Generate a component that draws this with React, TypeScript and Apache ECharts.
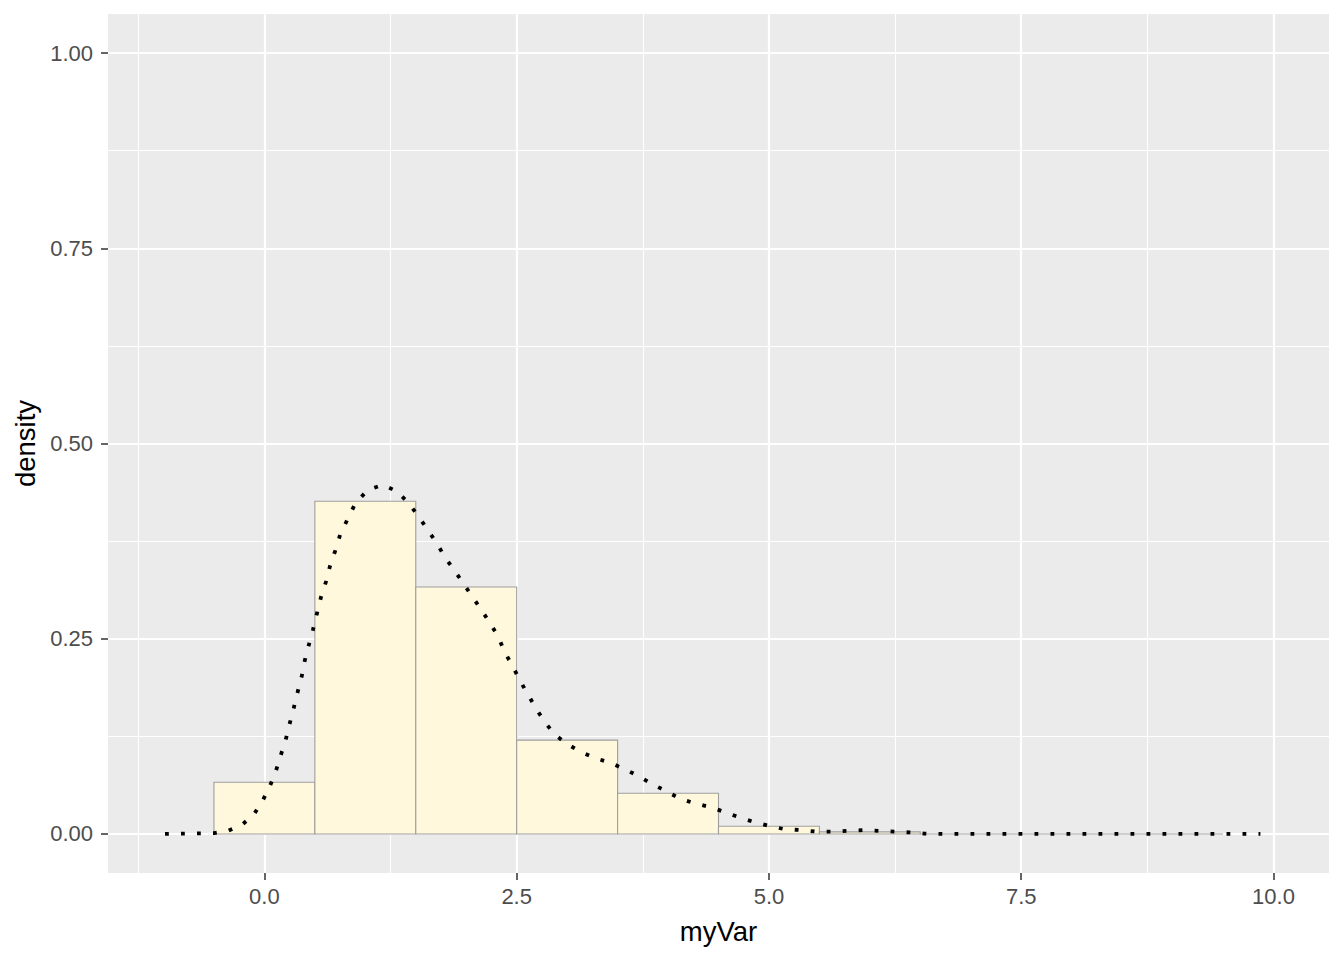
import React, { useEffect, useRef } from "react";
import * as echarts from "echarts";

// Histogram bins (binwidth 1) and their densities
const binStart = [-0.5, 0.5, 1.5, 2.5, 3.5, 4.5, 5.5, 6.5, 7.5, 8.5];
const binEnd = [0.5, 1.5, 2.5, 3.5, 4.5, 5.5, 6.5, 7.5, 8.5, 9.5];
const binDensity = [0.0663, 0.426, 0.3163, 0.1201, 0.0521, 0.0098, 0.0026, 0, 0, 0];

// Kernel density estimate (dotted curve)
const densityX = [
  -0.985, -0.5, -0.36, -0.22, -0.11, -0.02, 0.05, 0.11, 0.16, 0.21, 0.25, 0.29, 0.33,
  0.37, 0.4, 0.44, 0.48, 0.52, 0.56, 0.61, 0.65, 0.7, 0.75, 0.82, 0.9, 1.02, 1.17,
  1.31, 1.42, 1.52, 1.62, 1.71, 1.79, 1.88, 1.97, 2.06, 2.15, 2.24, 2.32, 2.38, 2.46,
  2.53, 2.61, 2.7, 2.78, 2.88, 3.0, 3.14, 3.28, 3.43, 3.57, 3.71, 3.84, 3.98, 4.12,
  4.27, 4.43, 4.56, 4.71, 4.86, 5.01, 5.16, 5.32, 5.47, 5.63, 5.78, 5.94, 6.09, 6.24,
  6.39, 6.54, 6.7, 7.5, 8.5, 9.87,
];
const densityY = [
  0, 0.001, 0.004, 0.012, 0.024, 0.042, 0.06, 0.079, 0.1, 0.12, 0.141, 0.161, 0.182,
  0.202, 0.222, 0.242, 0.261, 0.282, 0.303, 0.323, 0.343, 0.362, 0.383, 0.402, 0.423,
  0.44, 0.447, 0.439, 0.425, 0.408, 0.389, 0.372, 0.354, 0.338, 0.321, 0.304, 0.287,
  0.269, 0.252, 0.233, 0.215, 0.197, 0.179, 0.159, 0.143, 0.127, 0.115, 0.105, 0.097,
  0.091, 0.083, 0.074, 0.064, 0.055, 0.045, 0.039, 0.034, 0.028, 0.021, 0.015, 0.01,
  0.006, 0.005, 0.003, 0.003, 0.004, 0.005, 0.004, 0.003, 0.002, 0.0005, 0, 0, 0, 0,
];

const xTicks = [0, 2.5, 5, 7.5, 10];
const xMinor = [-1.25, 1.25, 3.75, 6.25, 8.75];
const yTicks = [0, 0.25, 0.5, 0.75, 1];
const yMinor = [0.125, 0.375, 0.625, 0.875];

const X_MIN = -1.55;
const X_MAX = 10.55;
const Y_MIN = -0.05;
const Y_MAX = 1.05;

const FONT = "'Liberation Sans', Arial, sans-serif";

export default function App() {
  const ref = useRef<HTMLDivElement>(null);

  useEffect(() => {
    if (!ref.current) return;
    const chart = echarts.init(ref.current, undefined, { renderer: "svg" });

    const histData = binStart.map((s, i) => [s, binEnd[i], binDensity[i]]);
    const densData = densityX.map((x, i) => [x, densityY[i]]);

    const option: any = {
      animation: false,
      backgroundColor: "#FFFFFF",
      textStyle: { fontFamily: FONT },
      grid: {
        left: 108,
        right: 15,
        top: 14,
        bottom: 87,
        show: true,
        backgroundColor: "#EBEBEB",
        borderWidth: 0,
        containLabel: false,
      },
      xAxis: [
        {
          type: "value",
          min: X_MIN,
          max: X_MAX,
          position: "bottom",
          name: "myVar",
          nameLocation: "middle",
          nameGap: 44,
          nameTextStyle: { fontSize: 27.5, color: "#000000", fontFamily: FONT },
          axisLine: { show: false, onZero: false },
          axisTick: {
            show: true,
            customValues: xTicks,
            length: 7,
            lineStyle: { color: "#333333", width: 1.5 },
          },
          axisLabel: {
            show: true,
            customValues: xTicks,
            margin: 12,
            fontSize: 22,
            color: "#4D4D4D",
            fontFamily: FONT,
            formatter: (v: number) => v.toFixed(1),
          },
          splitLine: { show: true, lineStyle: { color: "#FFFFFF", width: 2.2 } },
          minorTick: { show: false },
          minorSplitLine: { show: false },
        },
        {
          type: "value",
          min: X_MIN,
          max: X_MAX,
          position: "top",
          axisLine: { show: false, onZero: false },
          axisTick: { show: false, customValues: xMinor },
          axisLabel: { show: false },
          splitLine: { show: true, lineStyle: { color: "#FFFFFF", width: 1.1 } },
        },
      ],
      yAxis: [
        {
          type: "value",
          min: Y_MIN,
          max: Y_MAX,
          position: "left",
          name: "density",
          nameLocation: "middle",
          nameGap: 68,
          nameTextStyle: { fontSize: 27.5, color: "#000000", fontFamily: FONT },
          axisLine: { show: false, onZero: false },
          axisTick: {
            show: true,
            customValues: yTicks,
            length: 7,
            lineStyle: { color: "#333333", width: 1.5 },
          },
          axisLabel: {
            show: true,
            customValues: yTicks,
            margin: 15,
            fontSize: 22,
            color: "#4D4D4D",
            fontFamily: FONT,
            formatter: (v: number) => v.toFixed(2),
          },
          splitLine: { show: true, lineStyle: { color: "#FFFFFF", width: 2.2 } },
        },
        {
          type: "value",
          min: Y_MIN,
          max: Y_MAX,
          position: "right",
          axisLine: { show: false, onZero: false },
          axisTick: { show: false, customValues: yMinor },
          axisLabel: { show: false },
          splitLine: { show: true, lineStyle: { color: "#FFFFFF", width: 1.1 } },
        },
      ],
      series: [
        {
          type: "custom",
          name: "histogram",
          xAxisIndex: 0,
          yAxisIndex: 0,
          data: histData,
          encode: { x: [0, 1], y: 2 },
          z: 2,
          renderItem: (params: any, api: any) => {
            const x0 = api.value(0);
            const x1 = api.value(1);
            const h = api.value(2);
            const pTop = api.coord([x0, h]);
            const pBot = api.coord([x1, 0]);
            return {
              type: "polygon",
              shape: {
                points: [
                  [pTop[0], pBot[1]],
                  [pTop[0], pTop[1]],
                  [pBot[0], pTop[1]],
                  [pBot[0], pBot[1]],
                ],
              },
              style: { fill: "#FFF8DC", stroke: "#9E9E9E", lineWidth: 1.1 },
            };
          },
        },
        {
          type: "line",
          name: "density",
          xAxisIndex: 0,
          yAxisIndex: 0,
          data: densData,
          symbol: "none",
          smooth: false,
          z: 3,
          lineStyle: {
            color: "#000000",
            width: 3.8,
            type: [3.8, 12.2],
            cap: "butt",
          },
        },
      ],
    };

    chart.setOption(option);
    return () => chart.dispose();
  }, []);

  return (
    <div
      ref={ref}
      style={{ position: "absolute", left: 0, top: 0, width: 1344, height: 960 }}
    />
  );
}
